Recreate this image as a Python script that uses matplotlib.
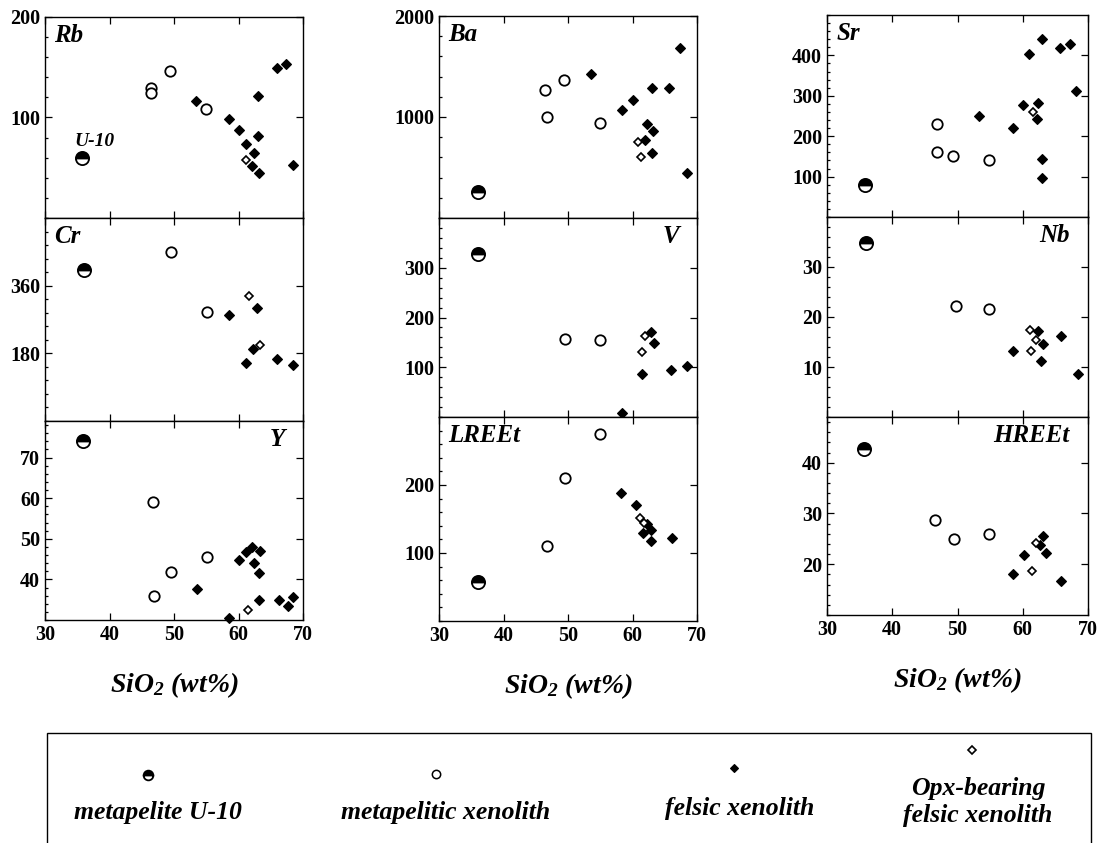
import matplotlib
matplotlib.use("Agg")
import matplotlib.pyplot as plt
from matplotlib.ticker import AutoMinorLocator
from matplotlib.patches import Rectangle
from matplotlib.lines import Line2D

plt.rcParams['font.family'] = ['Liberation Serif', 'DejaVu Serif']
plt.rcParams['font.weight'] = 'bold'
plt.rcParams['mathtext.default'] = 'regular'

# ---- data: (SiO2, value) ----
rb_u10 = [(35.8, 60)]
rb_meta = [(46.5, 129.5), (46.5, 124.6), (49.4, 146.6), (55.0, 108.2)]
rb_fel = [(53.4, 116.4), (58.5, 98.4), (60.1, 87.5), (61.1, 73.4), (63.1, 121.3),
          (63.1, 81.3), (62.4, 64.3), (62.1, 51.8), (63.2, 44.3), (65.9, 149.2),
          (67.4, 153.1), (68.5, 53.1)]
rb_opx = [(61.1, 57.4)]

cr_u10 = [(36.0, 403)]
cr_meta = [(49.5, 449), (55.1, 289)]
cr_fel = [(58.6, 282), (62.9, 300), (62.3, 191), (61.2, 155), (66.0, 165), (68.5, 149)]
cr_opx = [(61.7, 332), (63.4, 202)]

y_u10 = [(35.9, 74.1)]
y_meta = [(46.8, 59.0), (46.9, 35.9), (49.6, 41.7), (55.1, 45.4)]
y_fel = [(53.5, 37.6), (58.6, 30.5), (60.1, 44.8), (61.1, 46.8), (62.1, 48.0),
         (62.4, 44.0), (63.4, 47.1), (63.2, 41.5), (63.2, 34.9), (66.3, 34.9),
         (67.6, 33.5), (68.5, 35.7)]
y_opx = [(61.5, 32.4)]

ba_u10 = [(36.0, 260)]
ba_meta = [(46.5, 1270), (46.8, 1000), (49.4, 1368), (54.9, 941)]
ba_fel = [(53.5, 1428), (58.4, 1072), (60.1, 1171), (62.3, 931), (62.0, 770),
          (63.2, 859), (63.0, 645), (63.1, 1286), (65.7, 1286), (67.3, 1681), (68.4, 447)]
ba_opx = [(61.3, 602), (60.9, 750)]

v_u10 = [(36.0, 328)]
v_meta = [(49.6, 157), (54.9, 155)]
v_fel = [(62.9, 170), (63.3, 149), (61.4, 87), (58.4, 9), (66.0, 95), (68.4, 102)]
v_opx = [(61.4, 130), (61.9, 163)]

lree_u10 = [(36.0, 57)]
lree_meta = [(46.7, 110), (49.5, 211), (54.9, 275)]
lree_fel = [(58.2, 188), (60.5, 171), (62.2, 142), (61.7, 130), (62.9, 134),
            (62.8, 118), (66.1, 122)]
lree_opx = [(61.2, 151), (61.8, 144)]

sr_u10 = [(35.9, 78)]
sr_meta = [(46.8, 231), (46.8, 162), (49.3, 152), (54.8, 142)]
sr_fel = [(53.3, 250), (58.5, 221), (60.0, 277), (61.0, 404), (62.2, 242),
          (62.4, 283), (63.0, 440), (63.0, 143), (63.0, 96), (65.7, 418),
          (67.2, 429), (68.2, 313)]
sr_opx = [(61.5, 260)]

nb_u10 = [(36.0, 34.8)]
nb_meta = [(49.7, 22.3), (54.9, 21.6)]
nb_fel = [(58.5, 13.2), (62.3, 17.3), (63.1, 14.6), (62.8, 11.3), (65.8, 16.3), (68.4, 8.7)]
nb_opx = [(61.3, 13.2), (61.1, 17.5), (62.0, 15.5)]

hree_u10 = [(35.7, 42.6)]
hree_meta = [(46.6, 28.7), (49.4, 24.9), (54.9, 26.0)]
hree_fel = [(58.5, 18.0), (60.2, 21.9), (63.1, 25.5), (62.6, 23.7), (63.6, 22.3), (65.9, 16.7)]
hree_opx = [(61.4, 18.6), (62.0, 24.2)]

xticks = [30, 40, 50, 60, 70]
legend_labels = ['metapelite U-10', 'metapelitic xenolith', 'felsic xenolith',
                 'Opx-bearing\nfelsic xenolith']

W, H = 1100, 843
fig = plt.figure(figsize=(W / 100, H / 100), dpi=100)


def box(l, t, r, b):
    return [l / W, 1 - b / H, (r - l) / W, (b - t) / H]


U10_STYLE = dict(ls='none', marker='o', ms=9.5, fillstyle='top', mfc='black',
                 mfcalt='white', mec='black', mew=1.3)
META_STYLE = dict(ls='none', marker='o', ms=7.5, mfc='white', mec='black', mew=1.3)
FEL_STYLE = dict(ls='none', marker='D', ms=5.6, mfc='black', mec='black', mew=0.8)
OPX_STYLE = dict(ls='none', marker='D', ms=4.2, mfc='white', mec='black', mew=1.2)

# name, data, ylim, yticks, box(px), label side, bottom row
panels = [
    ('Rb', rb_u10, rb_meta, rb_fel, rb_opx, (0, 200), [100, 200], (45, 17, 303, 218), 'left', False),
    ('Cr', cr_u10, cr_meta, cr_fel, cr_opx, (0, 540), [180, 360], (45, 218, 303, 421), 'left', False),
    ('Y', y_u10, y_meta, y_fel, y_opx, (30, 79), [40, 50, 60, 70], (45, 421, 303, 620), 'right', True),
    ('Ba', ba_u10, ba_meta, ba_fel, ba_opx, (0, 2000), [1000, 2000], (439, 16, 697, 218), 'left', False),
    ('V', v_u10, v_meta, v_fel, v_opx, (0, 400), [100, 200, 300], (439, 218, 697, 417), 'right', False),
    ('LREEt', lree_u10, lree_meta, lree_fel, lree_opx, (0, 300), [100, 200], (439, 417, 697, 621), 'left', True),
    ('Sr', sr_u10, sr_meta, sr_fel, sr_opx, (0, 500), [100, 200, 300, 400], (827, 15, 1088, 217), 'left', False),
    ('Nb', nb_u10, nb_meta, nb_fel, nb_opx, (0, 40), [10, 20, 30], (827, 217, 1088, 417), 'right', False),
    ('HREEt', hree_u10, hree_meta, hree_fel, hree_opx, (10, 49), [20, 30, 40], (827, 417, 1088, 615), 'right', True),
]

for name, u10, meta, fel, opx, ylim, yt, px, lpos, bottom in panels:
    ax = fig.add_axes(box(*px))
    for pts, st in ((meta, META_STYLE), (fel, FEL_STYLE), (opx, OPX_STYLE), (u10, U10_STYLE)):
        ax.plot([p[0] for p in pts], [p[1] for p in pts], clip_on=False, **st)
    ax.set_xlim(30, 70)
    ax.set_ylim(*ylim)
    ax.set_xticks(xticks)
    ax.set_yticks(yt)
    ax.yaxis.set_minor_locator(AutoMinorLocator(5))
    ax.tick_params(direction='in', which='both', top=True, right=True,
                   labelsize=14.5, width=0.9)
    ax.tick_params(which='major', length=5)
    ax.tick_params(which='minor', length=2.5, right=False)
    if not bottom:
        ax.tick_params(axis='x', labelbottom=False)
    else:
        ax.set_xlabel('SiO$_2$ (wt%)', fontsize=20, fontstyle='italic',
                      fontweight='bold', labelpad=18)
    for lab in ax.get_yticklabels() + ax.get_xticklabels():
        lab.set_fontweight('bold')
    for s in ax.spines.values():
        s.set_linewidth(1.0)
    if lpos == 'left':
        ax.text(0.035, 0.965, name, transform=ax.transAxes, ha='left', va='top',
                fontsize=18, fontstyle='italic', fontweight='bold')
    else:
        ax.text(0.93, 0.965, name, transform=ax.transAxes, ha='right', va='top',
                fontsize=18, fontstyle='italic', fontweight='bold')
    if name == 'Rb':
        ax.text(37.6, 76, 'U-10', ha='center', va='center', fontsize=14,
                fontstyle='italic', fontweight='bold')

# ---- legend box ----
fig.add_artist(Rectangle((47 / W, 1 - 860 / H), (1091 - 47) / W, (860 - 733) / H,
                         transform=fig.transFigure, fill=False, ec='black', lw=1.0))
key_styles = [dict(U10_STYLE, ms=7), dict(META_STYLE, ms=6, mew=1.1),
              dict(FEL_STYLE, ms=4.3), dict(OPX_STYLE, ms=4.3)]
key_pos = [(148, 775), (436, 774), (734, 768), (972, 750)]
text_pos = [(158, 812), (446, 812), (740, 808), (978, 802)]
for lab, st, kp, tp in zip(legend_labels, key_styles, key_pos, text_pos):
    fig.add_artist(Line2D([kp[0] / W], [1 - kp[1] / H], transform=fig.transFigure, **st))
    fig.text(tp[0] / W, 1 - tp[1] / H, lab, ha='center', va='center', fontsize=18.5,
             fontstyle='italic', fontweight='bold', linespacing=1.2)

fig.savefig('out.png', dpi=100)
